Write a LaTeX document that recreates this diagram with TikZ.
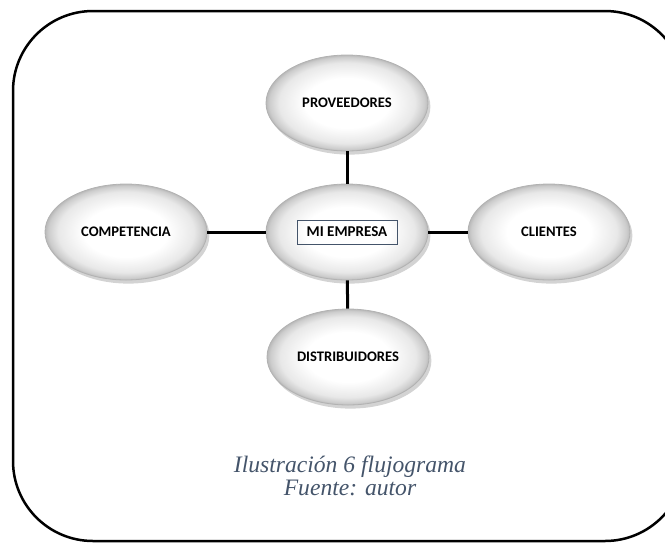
\documentclass[tikz,border=0pt]{standalone}
\usepackage{fontspec}
\setmainfont{Liberation Serif}
\newfontfamily\fgBoxFont{Carlito}
\usetikzlibrary{shapes.geometric,shadows,positioning}
\definecolor{fgCaption}{RGB}{68,84,106}

\pgfdeclareradialshading{fgball}{\pgfpointorigin}{%
  color(0bp)=(white); color(13bp)=(white); color(21bp)=(gray!18);
  color(24bp)=(gray!40); color(25bp)=(gray!55); color(50bp)=(gray!55)}

\def\fgEllW{81pt}
\def\fgEllH{48pt}
\def\fgLine{1.5pt}

\tikzset{
  fgell/.style={ellipse, draw=gray!60, line width=0.4pt, shading=fgball,
    minimum width=\fgEllW, minimum height=\fgEllH, inner sep=0pt,
    font=\fgBoxFont\bfseries\fontsize{7.3}{8}\selectfont,
    drop shadow={opacity=0.35, shadow xshift=1.2pt, shadow yshift=-1.8pt}},
  fgcon/.style={line width=\fgLine, black},
}

\begin{document}
\begin{tikzpicture}[x=0.5pt, y=-0.5pt]
  \useasboundingbox (0,0) rectangle (665,543);
  \clip (0,0) rectangle (665,543);
  %% frame
  \draw [line width=1.25pt, rounded corners=40pt]
  (13,11) rectangle (685,541);
  %% ellipses
  \node [fgell] (emp) at (347,232) {};
  \node [draw=fgCaption, line width=0.5pt, minimum width=50pt, minimum height=12pt,
    inner sep=0pt, font=\fgBoxFont\bfseries\fontsize{7.5}{8}\selectfont] (empbox) at (emp) {MI EMPRESA};
  \node [fgell] (prov) at (347,103) {PROVEEDORES};
  \node [fgell] (comp) at (126,232) {COMPETENCIA};
  \node [fgell] (cli) at (549,232) {CLIENTES};
  \node [fgell] (dist) at (348,357) {DISTRIBUIDORES};
  %% connectors
  \draw [fgcon] (prov) -- (emp);
  \draw [fgcon] (comp) -- (emp);
  \draw [fgcon] (emp) -- (cli);
  \draw [fgcon] (emp) -- (dist);
  %% caption
  \node [align=center, text=fgCaption, font=\itshape\fontsize{11.8}{11.5}\selectfont]
  (cap) at (350,476) {Ilustración 6 flujograma\\Fuente: autor};
\end{tikzpicture}
\end{document}
